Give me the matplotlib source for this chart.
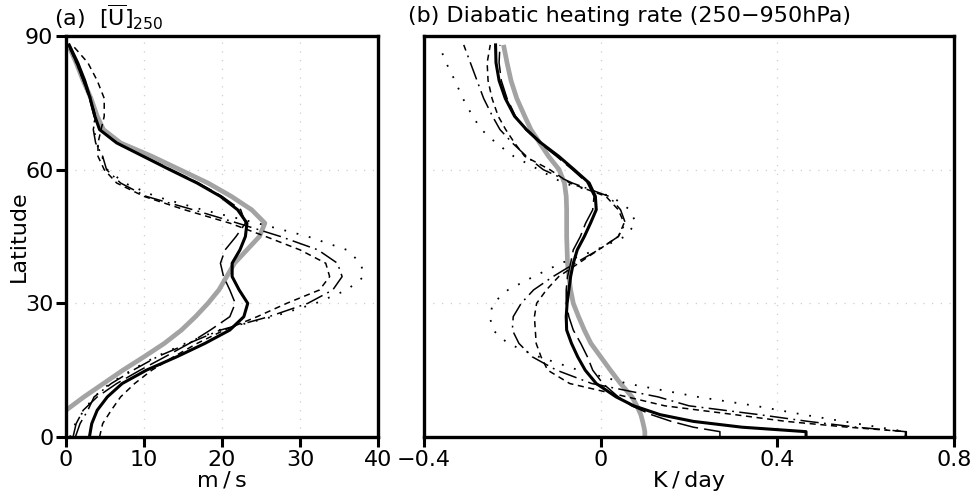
import numpy as np
import matplotlib.pyplot as plt

# ---- panel (a): zonal-mean U at 250 hPa (m/s) vs latitude ----
lat_a = [0, 3, 6, 9, 12, 15, 18, 21, 24, 27, 30, 33, 36, 39, 42, 45, 48,
         51, 54, 57, 60, 63, 66, 69, 72, 76, 80, 84, 88]
u_obs = [np.nan, np.nan, 0.0, 2.3, 4.8, 7.3, 10.0, 12.6, 14.8, 16.6, 18.2, 19.6, 20.6, 21.6,
         23.2, 24.8, 25.5, 23.8, 21.2, 18.2, 14.6, 11.0, 7.0, 4.8, 4.0, 3.2, 2.2, 1.3, 0.3]
u_ctl = [3.0, 3.3, 4.0, 5.3, 7.2, 10.3, 14.2, 17.8, 21.0, 22.8, 23.3, 22.2, 21.3, 21.3,
         22.3, 23.0, 23.2, 22.0, 19.8, 16.8, 13.3, 9.9, 6.5, 4.3, 3.7, 3.1, 2.4, 1.5, 0.4]
u_ldash = [0.9, 1.3, 2.2, 4.0, 6.5, 9.5, 12.7, 15.8, 18.5, 21.0, 21.7, 21.0, 20.2, 19.8,
           20.4, 21.8, 23.0, 22.4, 20.0, 17.0, 13.5, 10.0, 6.4, 4.3, 3.6, 3.0, 2.2, 1.3, 0.3]
u_dash = [4.3, 4.7, 5.8, 7.0, 8.8, 11.0, 13.8, 16.8, 20.3, 24.5, 28.3, 32.5, 33.8, 33.3,
          30.0, 25.6, 21.0, 15.2, 10.0, 6.5, 4.9, 4.1, 4.1, 4.5, 4.9, 4.9, 4.0, 2.8, 0.8]
u_dashdot = [1.2, 1.8, 2.8, 3.6, 5.8, 8.6, 11.7, 15.7, 19.8, 26.0, 31.0, 34.2, 35.4, 34.8,
             32.3, 27.5, 22.0, 16.3, 10.3, 7.0, 5.2, 4.7, 3.8, 3.5, 3.8, 3.1, 2.2, 1.3, 0.3]
u_dot = [0.5, 1.2, 2.3, 3.6, 5.6, 8.4, 11.5, 15.3, 19.6, 26.5, 32.0, 36.0, 38.2, 37.8,
         36.0, 31.0, 24.5, 17.5, 11.5, 7.5, 5.3, 4.6, 3.9, 3.6, 3.7, 3.2, 2.3, 1.3, 0.3]

# ---- panel (b): diabatic heating rate 250-950 hPa (K/day) ----
lat_b = [0, 1.2, 2.2, 3.5, 5, 7, 9, 12, 15, 18, 21, 24, 27, 30, 33, 36, 39, 42, 45,
         48, 51, 54, 57, 60, 63, 66, 69, 72, 76, 80, 84, 88]
q_obs = [0.100, 0.100, 0.098, 0.095, 0.091, 0.082, 0.071, 0.045, 0.022, 0.0, -0.022,
         -0.037, -0.050, -0.062, -0.068, -0.072, -0.075, -0.076, -0.077, -0.077, -0.077,
         -0.078, -0.082, -0.094, -0.118, -0.138, -0.158, -0.172, -0.190, -0.203, -0.212, -0.220]
q_ctl = [0.465, 0.465, 0.32, 0.21, 0.135, 0.075, 0.035, -0.010, -0.035, -0.052, -0.066,
         -0.077, -0.078, -0.076, -0.072, -0.068, -0.062, -0.053, -0.037, -0.023, -0.010,
         -0.012, -0.026, -0.060, -0.095, -0.135, -0.168, -0.195, -0.216, -0.230, -0.237, -0.238]
q_ldash = [0.27, 0.27, 0.21, 0.16, 0.115, 0.070, 0.040, 0.005, -0.018, -0.030, -0.045,
           -0.062, -0.072, -0.078, -0.078, -0.075, -0.068, -0.062, -0.046, -0.034, -0.018,
           -0.015, -0.030, -0.064, -0.100, -0.138, -0.170, -0.193, -0.212, -0.225, -0.230, -0.228]
q_dash = [0.692, 0.692, 0.56, 0.42, 0.305, 0.145, 0.060, -0.070, -0.120, -0.135, -0.146,
          -0.148, -0.150, -0.145, -0.123, -0.095, -0.050, -0.005, 0.040, 0.053, 0.040,
          0.012, -0.070, -0.115, -0.172, -0.195, -0.215, -0.232, -0.246, -0.255, -0.257, -0.250]
q_dashdot = [0.69, 0.69, 0.58, 0.47, 0.36, 0.20, 0.13, -0.020, -0.100, -0.155, -0.185,
             -0.200, -0.198, -0.180, -0.152, -0.108, -0.058, -0.005, 0.040, 0.056, 0.045,
             0.019, -0.064, -0.130, -0.168, -0.200, -0.228, -0.245, -0.265, -0.280, -0.295, -0.310]
q_dot = [0.69, 0.69, 0.63, 0.55, 0.46, 0.35, 0.22, 0.060, -0.050, -0.140, -0.210,
         -0.244, -0.251, -0.244, -0.210, -0.152, -0.090, -0.010, 0.055, 0.080, 0.066,
         0.025, -0.085, -0.140, -0.197, -0.237, -0.270, -0.290, -0.312, -0.330, -0.350, -0.366]

xticks_a = [0, 10, 20, 30, 40]
xticks_b = [-0.4, 0, 0.4, 0.8]
xticklabels_b = ['\u22120.4', '0', '0.4', '0.8']
yticks = [0, 30, 60, 90]

plt.rcParams['font.family'] = ['DejaVu Sans']
plt.rcParams['mathtext.fontset'] = 'dejavusans'
FS = 16

fig = plt.figure(figsize=(9.73, 4.93), dpi=100)
ax_a = fig.add_axes([66 / 973, 56 / 493, 312 / 973, 401 / 493])
ax_b = fig.add_axes([424 / 973, 56 / 493, 530 / 973, 401 / 493])


def draw_lines(ax, lat, obs, ctl, ldash, dash, dashdot, dot):
    ax.plot(obs, lat, color='#a3a3a3', lw=3.4, solid_capstyle='butt', zorder=2)
    ax.plot(ldash, lat, color='black', lw=1.1, dashes=(14, 4), zorder=3)
    ax.plot(dash, lat, color='black', lw=1.1, dashes=(4, 3), zorder=3)
    ax.plot(dashdot, lat, color='black', lw=1.1, dashes=(12, 3.5, 1.2, 3.5), zorder=3)
    ax.plot(dot, lat, color='black', lw=1.3, dashes=(1, 6), zorder=3)
    ax.plot(ctl, lat, color='black', lw=2.2, zorder=4)


def style(ax):
    ax.set_ylim(0, 90)
    ax.set_yticks(yticks)
    for s in ax.spines.values():
        s.set_linewidth(2.4)
    ax.tick_params(direction='out', length=7, width=2.2, labelsize=FS, pad=2)
    ax.grid(True, color='#cfcfcf', lw=0.9, linestyle=(0, (1, 6)), zorder=0)


draw_lines(ax_a, lat_a, u_obs, u_ctl, u_ldash, u_dash, u_dashdot, u_dot)
style(ax_a)
ax_a.set_xlim(0, 40)
ax_a.set_xticks(xticks_a)
ax_a.set_ylabel('Latitude', fontsize=FS)
ax_a.yaxis.set_label_coords(-0.118, 0.5)
ax_a.set_xlabel('m\u2009/\u2009s', fontsize=FS, labelpad=1)
ax_a.text(-0.04, 1.01, r'(a)  $[\overline{\mathrm{U}}]_{250}$', transform=ax_a.transAxes,
          fontsize=16, ha='left', va='bottom')

draw_lines(ax_b, lat_b, q_obs, q_ctl, q_ldash, q_dash, q_dashdot, q_dot)
style(ax_b)
ax_b.set_xlim(-0.4, 0.8)
ax_b.set_xticks(xticks_b)
ax_b.set_xticklabels(xticklabels_b)
ax_b.tick_params(axis='y', left=False, labelleft=False)
ax_b.set_xlabel('K\u2009/\u2009day', fontsize=FS, labelpad=1)
ax_b.text(-0.03, 1.025, '(b) Diabatic heating rate (250\u2212950hPa)', transform=ax_b.transAxes,
          fontsize=16, ha='left', va='bottom')

fig.savefig('out.png', dpi=100)
